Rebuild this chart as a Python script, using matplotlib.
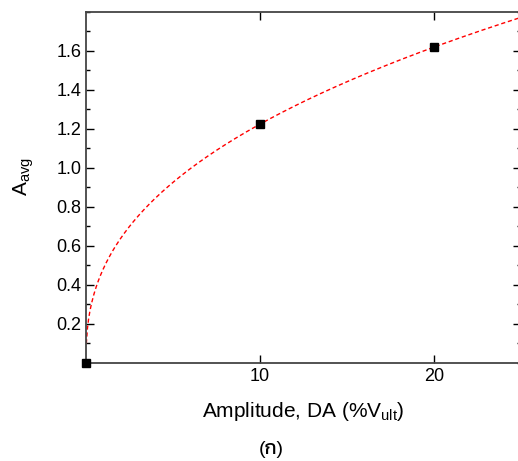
import numpy as np
import matplotlib
matplotlib.use("Agg")
import matplotlib.pyplot as plt
from matplotlib.ticker import MultipleLocator

plt.rcParams['font.family'] = ['Liberation Sans', 'DejaVu Sans']

# measured points
amplitude = [0, 10, 20]
a_avg = [0.0, 1.225, 1.62]

# power-law fit y = a*x^b through the non-zero points
x_nz = np.array(amplitude[1:], dtype=float)
y_nz = np.array(a_avg[1:], dtype=float)
b, log_a = np.polyfit(np.log(x_nz), np.log(y_nz), 1)
x_fit = np.linspace(0.02, 25, 400)
y_fit = np.exp(log_a) * x_fit ** b

fig = plt.figure(figsize=(5.18, 4.61), dpi=100)
ax = fig.add_axes([0.166, 0.2126, 0.84, 0.7614])

ax.plot(x_fit, y_fit, color='red', linestyle=(0, (3, 2)), linewidth=1.0, zorder=2)
ax.plot(amplitude, a_avg, 's', color='black', markersize=5.5, zorder=3, clip_on=False)

ax.set_xlim(0, 25)
ax.set_ylim(0, 1.8)
ax.set_xticks([10, 20])
ax.set_yticks([0.2, 0.4, 0.6, 0.8, 1.0, 1.2, 1.4, 1.6])
ax.yaxis.set_minor_locator(MultipleLocator(0.1))
ax.tick_params(which='both', direction='in', top=True, right=True, labelsize=13)
ax.tick_params(which='major', length=6, width=1)
ax.tick_params(which='minor', length=3, width=1)
ax.tick_params(axis='x', which='minor', top=False, bottom=False)
for s in ax.spines.values():
    s.set_color('#444444')
    s.set_linewidth(1.3)

ax.set_xlabel('Amplitude, DA (%V$_{\\mathregular{ult}}$)', fontsize=15, labelpad=11)
ax.set_ylabel('A$_{\\mathregular{avg}}$', fontsize=15)
ax.yaxis.set_label_coords(-0.115, 0.53)
fig.text(0.523, 0.026, '(ก)', fontsize=14, ha='center', va='center',
         family=['Liberation Sans', 'Kanit', 'Prompt', 'DejaVu Sans'])

fig.savefig('out.png', dpi=100)
